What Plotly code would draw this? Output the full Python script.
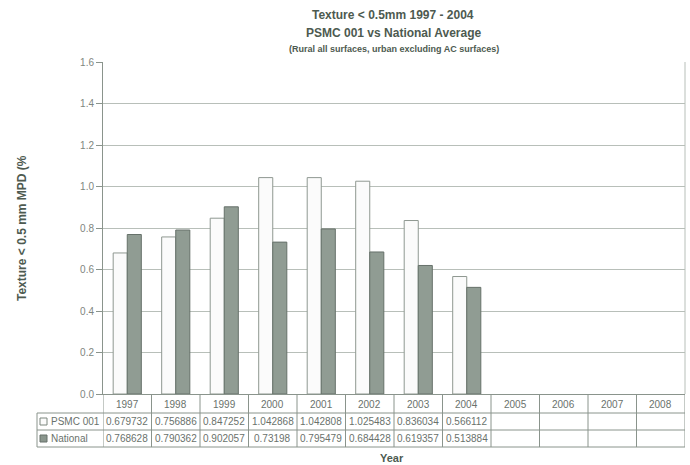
import plotly.graph_objects as go

years = ["1997", "1998", "1999", "2000", "2001", "2002", "2003", "2004",
         "2005", "2006", "2007", "2008"]
psmc_years = ["1997", "1998", "1999", "2000", "2001", "2002", "2003", "2004"]
psmc = [0.679732, 0.756886, 0.847252, 1.042868, 1.042808, 1.025483, 0.836034, 0.566112]
national = [0.768628, 0.790362, 0.902057, 0.73198, 0.795479, 0.684428, 0.619357, 0.513884]
psmc_labels = ["0.679732", "0.756886", "0.847252", "1.042868", "1.042808", "1.025483", "0.836034", "0.566112"]
national_labels = ["0.768628", "0.790362", "0.902057", "0.73198", "0.795479", "0.684428", "0.619357", "0.513884"]
y_ticks = [0.0, 0.2, 0.4, 0.6, 0.8, 1.0, 1.2, 1.4, 1.6]

W, H = 690, 465
L, R, T, B = 103, 685, 62, 394
pw, ph = R - L, B - T

def px(x):
    return (x - L) / pw

def py(y):
    return (B - y) / ph

TXT = "#4d5a50"
GRID = "#b8bfb9"
LINE = "#8a948c"
FONT = "Liberation Sans, Arial, sans-serif"

fig = go.Figure()
fig.add_trace(go.Bar(x=psmc_years, y=psmc, name="PSMC 001",
                     marker=dict(color="#fbfbfb", line=dict(color="#8f9891", width=1))))
fig.add_trace(go.Bar(x=psmc_years, y=national, name="National",
                     marker=dict(color="#909c93", line=dict(color="#66716a", width=1))))

shapes = []
annotations = []

# table horizontal lines
row_lines = [413, 430, 447]
for yl in row_lines:
    shapes.append(dict(type="line", xref="paper", yref="paper",
                       x0=px(37), x1=px(R), y0=py(yl), y1=py(yl),
                       line=dict(color=LINE, width=1)))
# vertical lines
n = len(years)
for i in range(n + 1):
    shapes.append(dict(type="line", xref="x", yref="paper",
                       x0=i - 0.5, x1=i - 0.5, y0=py(B), y1=py(447),
                       line=dict(color=LINE, width=1)))
shapes.append(dict(type="line", xref="paper", yref="paper",
                   x0=px(37), x1=px(37), y0=py(413), y1=py(447),
                   line=dict(color=LINE, width=1)))
# right border of plot
shapes.append(dict(type="line", xref="paper", yref="paper",
                   x0=1, x1=1, y0=0, y1=1, line=dict(color=GRID, width=1)))
# legend keys
shapes.append(dict(type="rect", xref="paper", yref="paper",
                   x0=px(40), x1=px(47), y0=py(418), y1=py(425),
                   fillcolor="#fbfbfb", line=dict(color="#7d877f", width=1)))
shapes.append(dict(type="rect", xref="paper", yref="paper",
                   x0=px(40), x1=px(47), y0=py(435), y1=py(442),
                   fillcolor="#8a968d", line=dict(color="#66716a", width=1)))

tfont = dict(family=FONT, size=10, color="#6a726c")
for i, yr in enumerate(years):
    annotations.append(dict(x=i, xref="x", y=py(404), yref="paper", text=yr,
                            showarrow=False, font=tfont, xanchor="center", yanchor="middle"))
for i, v in enumerate(psmc_labels):
    annotations.append(dict(x=i, xref="x", y=py(421.5), yref="paper", text=v,
                            showarrow=False, font=tfont, xanchor="center", yanchor="middle"))
for i, v in enumerate(national_labels):
    annotations.append(dict(x=i, xref="x", y=py(438.5), yref="paper", text=v,
                            showarrow=False, font=tfont, xanchor="center", yanchor="middle"))
annotations.append(dict(x=px(49), xref="paper", y=py(421.5), yref="paper", text="PSMC 001",
                        showarrow=False, font=tfont, xanchor="left", yanchor="middle"))
annotations.append(dict(x=px(49), xref="paper", y=py(438.5), yref="paper", text="National",
                        showarrow=False, font=tfont, xanchor="left", yanchor="middle"))
annotations.append(dict(x=px(392), xref="paper", y=py(458), yref="paper", text="<b>Year</b>",
                        showarrow=False, font=dict(family=FONT, size=11, color=TXT),
                        xanchor="center", yanchor="middle"))
annotations.append(dict(x=px(22), xref="paper", y=py(228), yref="paper",
                        text="<b>Texture < 0.5 mm MPD (%</b>", textangle=-90,
                        showarrow=False, font=dict(family=FONT, size=12, color=TXT),
                        xanchor="center", yanchor="middle"))
# titles
annotations.append(dict(x=px(393), xref="paper", y=py(15), yref="paper",
                        text="<b>Texture < 0.5mm 1997 - 2004</b>", showarrow=False,
                        font=dict(family=FONT, size=12, color=TXT), xanchor="center", yanchor="middle"))
annotations.append(dict(x=px(394), xref="paper", y=py(33), yref="paper",
                        text="<b>PSMC 001 vs National Average</b>", showarrow=False,
                        font=dict(family=FONT, size=12, color=TXT), xanchor="center", yanchor="middle"))
annotations.append(dict(x=px(394), xref="paper", y=py(49), yref="paper",
                        text="<b>(Rural all surfaces, urban excluding AC surfaces)</b>", showarrow=False,
                        font=dict(family=FONT, size=9, color=TXT), xanchor="center", yanchor="middle"))

fig.update_layout(
    width=W, height=H,
    margin=dict(l=L, r=W - R, t=T, b=H - B),
    paper_bgcolor="white", plot_bgcolor="white",
    barmode="group", bargap=0.42, bargroupgap=0.0,
    showlegend=False,
    shapes=shapes, annotations=annotations,
    xaxis=dict(type="category", categoryorder="array", categoryarray=years,
               range=[-0.5, n - 0.5], showticklabels=False, ticks="",
               showgrid=False, showline=True, linecolor=LINE, linewidth=1,
               zeroline=False, fixedrange=True),
    yaxis=dict(range=[0, 1.6], tickvals=y_ticks,
               ticktext=[f"{v:.1f}" for v in y_ticks],
               ticks="outside", ticklen=6, tickcolor=LINE,
               showgrid=True, gridcolor=GRID, gridwidth=1,
               showline=True, linecolor=LINE, linewidth=1, mirror=False,
               zeroline=False, fixedrange=True,
               tickfont=dict(family=FONT, size=10, color="#808680")),
)

fig.write_html("out.html", config={"displayModeBar": False},
               post_script="document.body.style.margin='0';document.body.style.overflow='hidden';")
